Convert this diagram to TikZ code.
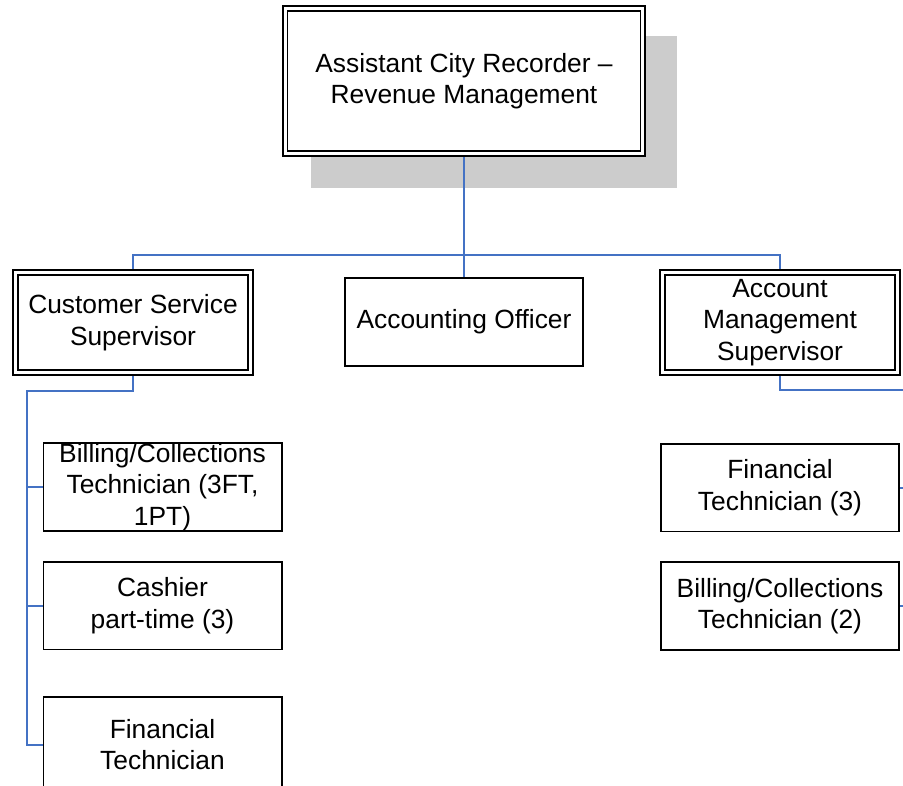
\documentclass[tikz,border=0pt]{standalone}
\usepackage{fontspec}
\setmainfont{Liberation Sans}
\usepackage{tikz}
\usetikzlibrary{positioning}
\usetikzlibrary{backgrounds}
\definecolor{linkblue}{RGB}{68,114,196}
\definecolor{shadowgray}{RGB}{204,204,204}
\tikzset{box node/.style={rectangle,draw,fill=white,align=center,inner sep=0pt,
    font=\fontsize{15}{18}\selectfont,line width=1.1pt},
  staff node/.style={box node,minimum width=135.5pt,minimum height=50pt},
  sup node/.style={box node,double,double distance=1.7pt,outer sep=2pt,
    minimum width=133.3pt,minimum height=56.8pt},
  link/.style={draw=linkblue,line width=1.1pt},}

\begin{document}
\begin{tikzpicture}[x=0.02cm,y=-0.02cm]
	\useasboundingbox (0,0) rectangle (903,785);
	\clip (0,0) rectangle (903,785);

	\node[sup node, minimum width=203.7pt, minimum height=82.9pt] (head) at (464,81)
	  {Assistant City Recorder –\\ Revenue Management};
	\begin{scope}[on background layer]
	  \fill[shadowgray] ([shift={(29,31)}]head.north west) rectangle ([shift={(31,31)}]head.south east);
	\end{scope}

	\node[sup node] (css) at (133,322.5) {Customer Service\\ Supervisor};
	\node[staff node] (acc) at (464,322) {Accounting Officer};
	\node[sup node] (ams) at (780,322.5) {Account\\ Management\\ Supervisor};

	\node[staff node] (bct) at (162.5,487) {Billing/Collections\\ Technician (3FT,\\ 1PT)};
	\node[staff node] (cash) [below=16.4pt of bct] {Cashier\\ part-time (3)};
	\node[staff node, minimum height=54pt] (fint) [below=26pt of cash] {Financial\\ Technician};

	\node[staff node] (ft3) [below=38pt of ams] {Financial\\ Technician (3)};
	\node[staff node] (bc2) [below=16.4pt of ft3] {Billing/Collections\\ Technician (2)};

	\coordinate (bus) at (464,255);
	\coordinate (lbus) at (27,391);
	\coordinate (rbus) at (915,390);

	\path[link] (head) -- (acc)
	  (css.north) |- (bus) -| (ams.north)
	  (css.south) |- (lbus) |- (fint.west)
	  (ams.south) |- (rbus) |- (bc2.east);
	\foreach \n in {bct,cash}
	  \draw[link] (\n.west) -- (\n.west -| lbus);
	\draw[link] (ft3.east) -- (ft3.east -| rbus);
\end{tikzpicture}
\end{document}
